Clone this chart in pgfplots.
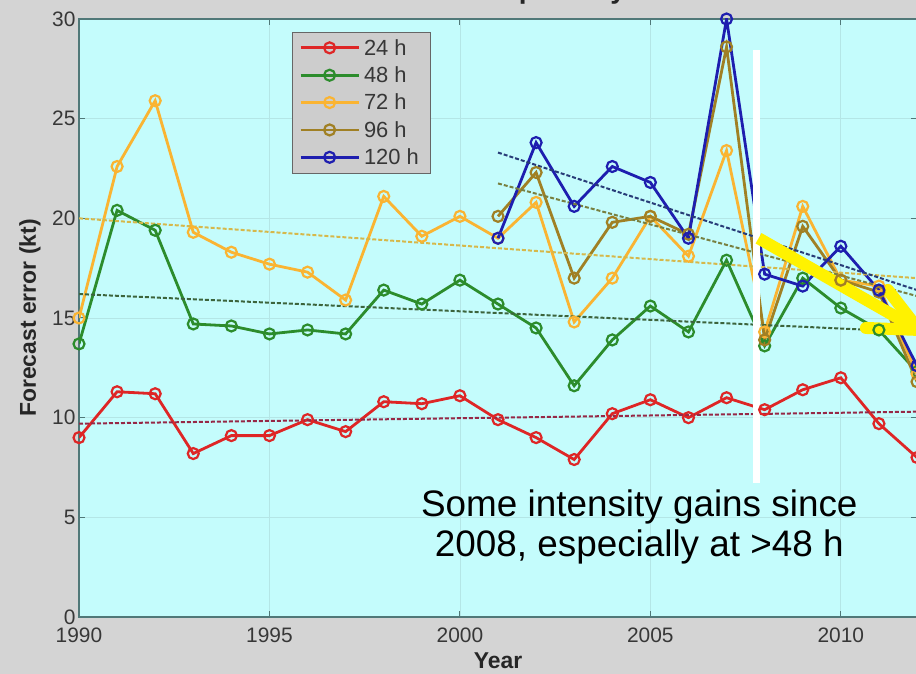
\documentclass[border=0pt]{standalone}
\usepackage{fontspec}
\setmainfont{Liberation Sans}
\usepackage{pgfplots}
\pgfplotsset{compat=1.18}
\definecolor{bg}{RGB}{196,252,252}
\definecolor{figgray}{RGB}{212,212,212}
\definecolor{gridc}{RGB}{180,230,230}
\definecolor{framec}{RGB}{80,120,120}
\definecolor{tickc}{RGB}{55,55,55}
\definecolor{legfill}{RGB}{205,205,205}
\definecolor{c24}{RGB}{222,38,38}
\definecolor{c48}{RGB}{44,140,44}
\definecolor{c72}{RGB}{250,180,50}
\definecolor{c96}{RGB}{160,128,36}
\definecolor{c120}{RGB}{30,30,175}
\definecolor{t24}{RGB}{150,40,70}
\definecolor{t48}{RGB}{60,100,60}
\definecolor{t72}{RGB}{214,184,74}
\definecolor{t96}{RGB}{120,128,64}
\definecolor{t120}{RGB}{40,60,120}
\begin{document}
\begin{tikzpicture}
\fill[figgray] (0,0) rectangle (916bp,674bp);
\begin{axis}[
  at={(79bp,57bp)}, anchor=south west,
  scale only axis, width=838bp, height=598bp,
  xmin=1990, xmax=2012, ymin=0, ymax=30,
  axis background/.style={fill=bg},
  xtick={1990,1995,2000,2005,2010},
  xticklabels={1990,1995,2000,2005,2010},
  ytick={0,5,10,15,20,25,30},
  yticklabels={0,5,10,15,20,25,30},
  grid=major, major grid style={gridc, line width=0.8bp},
  tick align=inside, major tick length=6bp,
  axis line style={framec, line width=1.2bp},
  every tick/.style={framec, line width=1bp},
  tick label style={font=\fontsize{21}{21}\selectfont, text=tickc},
  xticklabel style={yshift=-7bp},
  title={Atlantic Basin Tropical Cyclones},
  title style={at={(0.5,1)}, anchor=base, yshift=15bp, font=\bfseries\fontsize{28}{28}\selectfont, text=black!85},
  xlabel={Year},
  xlabel style={at={(axis description cs:0.5,0)}, anchor=base, yshift=-51bp, font=\bfseries\fontsize{23}{23}\selectfont, text=black!85},
  ylabel={Forecast error (kt)},
  ylabel style={at={(axis description cs:-0.0585,0.5)}, anchor=center, font=\bfseries\fontsize{23}{23}\selectfont, text=black!85},
  legend style={at={(rel axis cs:0.2542,0.9783)}, anchor=north west, fill=legfill, draw=gray!80!black,
    font=\fontsize{22}{22}\selectfont, text=tickc, inner xsep=7bp, inner ysep=5bp,
    row sep=6bp, legend cell align=left, nodes={inner xsep=4bp}},
  legend image code/.code={\draw[mark repeat=2,mark phase=2,line width=2.8bp,#1] plot coordinates {(0bp,0bp) (29bp,0bp) (58bp,0bp)};},
  every axis plot/.append style={line width=2.8bp, mark=o, mark size=5.5bp, mark options={solid, line width=2.2bp}},
]
% data series
\addplot[c24] coordinates {(1990,9.0)(1991,11.3)(1992,11.2)(1993,8.2)(1994,9.1)(1995,9.1)(1996,9.9)(1997,9.3)(1998,10.8)(1999,10.7)(2000,11.1)(2001,9.9)(2002,9.0)(2003,7.9)(2004,10.2)(2005,10.9)(2006,10.0)(2007,11.0)(2008,10.4)(2009,11.4)(2010,12.0)(2011,9.7)(2012,8.0)};
\addlegendentry{24 h}
\addplot[c48] coordinates {(1990,13.7)(1991,20.4)(1992,19.4)(1993,14.7)(1994,14.6)(1995,14.2)(1996,14.4)(1997,14.2)(1998,16.4)(1999,15.7)(2000,16.9)(2001,15.7)(2002,14.5)(2003,11.6)(2004,13.9)(2005,15.6)(2006,14.3)(2007,17.9)(2008,13.6)(2009,17.0)(2010,15.5)(2011,14.4)(2012,12.3)};
\addlegendentry{48 h}
\addplot[c72] coordinates {(1990,15.0)(1991,22.6)(1992,25.9)(1993,19.3)(1994,18.3)(1995,17.7)(1996,17.3)(1997,15.9)(1998,21.1)(1999,19.1)(2000,20.1)(2001,19.0)(2002,20.8)(2003,14.8)(2004,17.0)(2005,20.1)(2006,18.1)(2007,23.4)(2008,14.3)(2009,20.6)(2010,16.9)(2011,16.6)(2012,12.2)};
\addlegendentry{72 h}
\addplot[c96] coordinates {(2001,20.1)(2002,22.3)(2003,17.0)(2004,19.8)(2005,20.1)(2006,19.2)(2007,28.6)(2008,13.9)(2009,19.6)(2010,16.9)(2011,16.3)(2012,11.8)};
\addlegendentry{96 h}
\addplot[c120] coordinates {(2001,19.0)(2002,23.8)(2003,20.6)(2004,22.6)(2005,21.8)(2006,19.0)(2007,30.0)(2008,17.2)(2009,16.6)(2010,18.6)(2011,16.4)(2012,12.6)};
\addlegendentry{120 h}
% trend lines
\addplot[t24, forget plot, mark=none, line width=2bp, dash pattern=on 4bp off 2bp] coordinates {(1990,9.70)(2012,10.30)};
\addplot[t48, forget plot, mark=none, line width=2bp, dash pattern=on 4bp off 2bp] coordinates {(1990,16.2)(2012,14.3)};
\addplot[t72, forget plot, mark=none, line width=2bp, dash pattern=on 4bp off 2bp] coordinates {(1990,20.0)(2012,17.0)};
\addplot[t96, forget plot, mark=none, line width=2bp, dash pattern=on 4bp off 2bp] coordinates {(2001,21.75)(2012,16.1)};
\addplot[t120, forget plot, mark=none, line width=2bp, dash pattern=on 4bp off 2bp] coordinates {(2001,23.3)(2012,16.4)};
% annotations
\draw[white, line width=7bp] (axis cs:2007.79,6.72) -- (axis cs:2007.79,28.45);
\coordinate (tip) at (axis cs:2012.05,14.4);
\draw[yellow, line width=12bp] (axis cs:2007.84,19.0) -- (tip);
\draw[yellow, line width=12bp, line cap=round, line join=round] ([shift={(-31bp,40bp)}]tip) -- (tip) -- ([shift={(-53bp,2bp)}]tip);
\node[anchor=base, font=\fontsize{37}{40}\selectfont] at (axis cs:2004.71,5.02) {Some intensity gains since};
\node[anchor=base, font=\fontsize{37}{40}\selectfont] at (axis cs:2004.71,3.01) {2008, especially at >48 h};
\end{axis}
\pgfresetboundingbox
\path[use as bounding box] (0,0) rectangle (916bp,674bp);
\end{tikzpicture}
\end{document}
